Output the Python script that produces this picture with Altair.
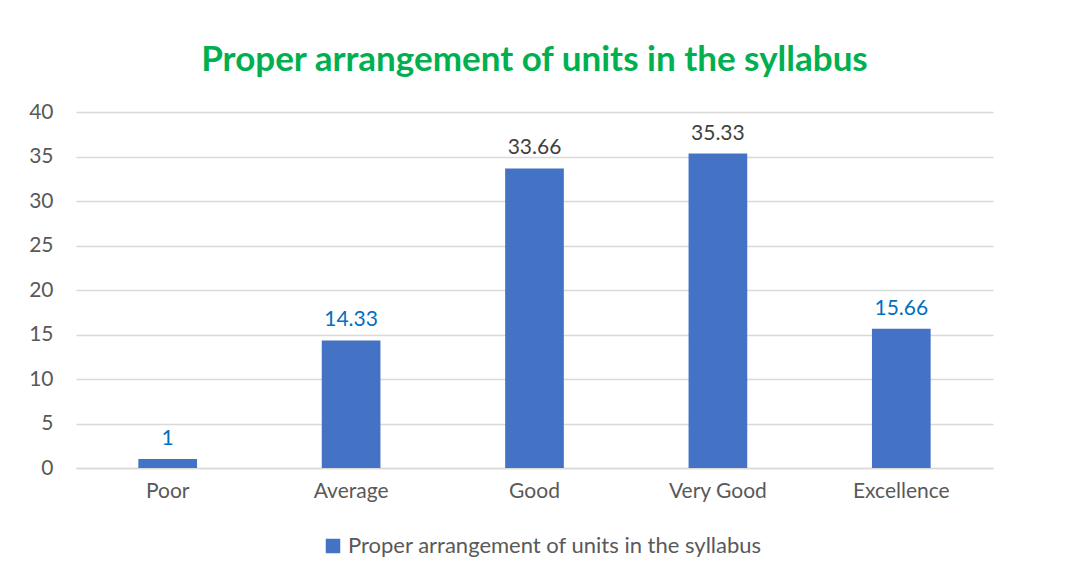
import altair as alt
import pandas as pd

categories = ["Poor", "Average", "Good", "Very Good", "Excellence"]
values = [1, 14.33, 33.66, 35.33, 15.66]
label_colors = ["#0070C0", "#0070C0", "#404040", "#404040", "#0070C0"]
series_name = "Proper arrangement of units in the syllabus"
title_text = "Proper arrangement of units in the syllabus"
y_ticks = [0, 5, 10, 15, 20, 25, 30, 35, 40]

df = pd.DataFrame({
    "category": categories,
    "value": values,
    "label": [f"{v:g}" for v in values],
    "tc": label_colors,
    "series": [series_name] * len(categories),
})

FONT = "Lato"
GRAY = "#595959"
FS = 21

x_enc = alt.X(
    "category:N",
    sort=categories,
    title=None,
    scale=alt.Scale(paddingInner=0.68, paddingOuter=0.34),
    axis=alt.Axis(labelAngle=0, labelFontSize=FS, labelColor=GRAY, labelFont=FONT,
                  ticks=False, domainColor="#d9d9d9", domainWidth=1.5, labelPadding=12),
)
y_enc = alt.Y(
    "value:Q",
    title=None,
    scale=alt.Scale(domain=[0, 40]),
    axis=alt.Axis(values=y_ticks, labelFontSize=FS, labelColor=GRAY, labelFont=FONT,
                  ticks=False, domain=False, gridColor="#d9d9d9", gridWidth=1.5,
                  labelPadding=23),
)

bars = alt.Chart(df).mark_bar(color="#4472C4").encode(
    x=x_enc,
    y=y_enc,
    color=alt.Color("series:N", scale=alt.Scale(range=["#4472C4"]),
                    legend=alt.Legend(orient="none", legendX=246, legendY=423,
                                      title=None, symbolType="square",
                                      symbolSize=210, labelFontSize=22, labelColor=GRAY,
                                      labelFont=FONT, labelLimit=0, symbolStrokeWidth=0)),
)

texts = alt.Chart(df).mark_text(baseline="bottom", dy=-10, fontSize=FS, font=FONT).encode(
    x=alt.X("category:N", sort=categories),
    y=alt.Y("value:Q"),
    text="label:N",
    color=alt.Color("tc:N", scale=None),
)

chart = alt.layer(bars, texts).resolve_scale(color="independent").properties(
    width=917,
    height=356,
    autosize=alt.AutoSizeParams(type="none"),
    padding={"left": 68, "top": 104, "right": 90, "bottom": 98},
    title=alt.TitleParams(title_text, fontSize=35, font=FONT, fontWeight="bold",
                          color="#00B050", anchor="middle", offset=23),
).configure(background="white").configure_view(stroke=None)

chart.save("out.html", embed_options={"renderer": "svg", "actions": False})
